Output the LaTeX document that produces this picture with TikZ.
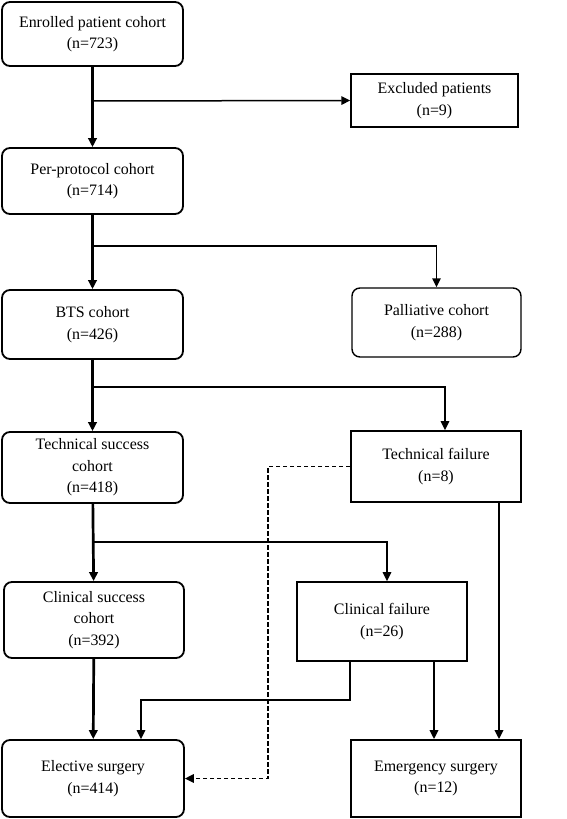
\documentclass[tikz,border=0pt]{standalone}
\usepackage{fontspec}
\setmainfont{Liberation Serif}
\usetikzlibrary{arrows.meta}

\begin{document}
\begin{tikzpicture}[x=1bp, y=-1bp,
	every node/.style={font=\fontsize{16}{21.5}\selectfont, align=center, inner sep=0pt},
	rbox/.style={draw, line width=1.8bp, rounded corners=8bp, minimum width=181bp},
	sbox/.style={draw, line width=1.8bp, minimum width=170bp},
	arr/.style={-{Triangle[length=9bp, width=8.5bp]}, line width=1.5bp},
	thick arr/.style={arr, line width=2.7bp},
	dash arr/.style={arr, dash pattern=on 4.5bp off 2.5bp}]
	\useasboundingbox (0,0) rectangle (567,819);
	
	\node[rbox, minimum height=64bp] (enrolled) at (92.5,34) {Enrolled patient cohort\\(n=723)};
	\node[sbox, minimum width=167bp, minimum height=53bp, line width=1.4bp] (excluded) at (434.5,100.5) {Excluded patients\\(n=9)};
	\node[rbox, minimum height=66bp] (perprot) at (92.5,181) {Per-protocol cohort\\(n=714)};
	\node[rbox, minimum height=69bp] (bts) at (92.5,324.5) {BTS cohort\\(n=426)};
	\node[rbox, minimum width=169bp, minimum height=69bp, line width=1.4bp] (palliative) at (436.5,322.5) {Palliative cohort\\(n=288)};
	\node[rbox, minimum height=71bp] (techsucc) at (92.5,467.5) {Technical success\\cohort\\(n=418)};
	\node[sbox, minimum height=71bp] (techfail) at (436,466.5) {Technical failure\\(n=8)};
	\node[rbox, minimum width=180bp, minimum height=76bp] (clinsucc) at (94,620) {Clinical success\\cohort\\(n=392)};
	\node[sbox, minimum height=79bp] (clinfail) at (382,621.5) {Clinical failure\\(n=26)};
	\node[rbox, minimum width=182bp, minimum height=77bp] (elective) at (93,778.5) {Elective surgery\\(n=414)};
	\node[sbox, minimum height=77bp] (emergency) at (436,778.5) {Emergency surgery\\(n=12)};
	
	\coordinate (j1) at (92.5,101);
	\coordinate (j2) at (92.5,246);
	\coordinate (j3) at (92.5,387);
	\coordinate (j4) at (92.5,542);
	\coordinate (j5) at (141,700);
	\coordinate (j6) at (268,600);
	
	\draw[thick arr] (enrolled) -- (perprot);
	\draw[thick arr] (perprot) -- (bts);
	\draw[thick arr] (bts) -- (techsucc);
	\draw[thick arr] (techsucc) -- (clinsucc);
	\draw[thick arr] (clinsucc) -- (elective);
	
	\draw[arr] (j1) -- (excluded.west);
	\draw[arr] (j2) -| (palliative.north);
	\draw[arr] (j3) -| ([xshift=9bp]techfail.north);
	\draw[arr] (j4) -| ([xshift=5bp]clinfail.north);
	
	\draw[arr] ([xshift=-32bp]clinfail.south) |- (j5) -- (j5 |- elective.north);
	\draw[arr, line width=2bp] ([xshift=52bp]clinfail.south) -- ([xshift=52bp]clinfail.south |- emergency.north);
	\draw[arr, line width=2bp] ([xshift=63bp]techfail.south) -- ([xshift=63bp]techfail.south |- emergency.north);
	\draw[dash arr] (techfail.west) -| (j6) |- (elective.east);
\end{tikzpicture}
\end{document}
